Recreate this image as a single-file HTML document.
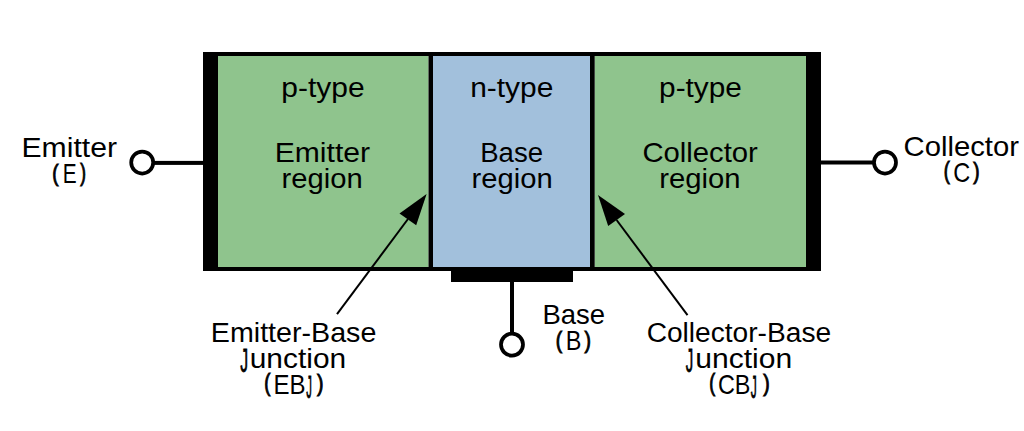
<!DOCTYPE html>
<html><head><meta charset="utf-8"><title>BJT structure</title><style>
html,body{margin:0;padding:0;background:#fff;width:1024px;height:431px;overflow:hidden}
svg{display:block}
text{font-family:"Liberation Sans",sans-serif;font-size:27.0px;fill:#000}
</style></head><body>
<svg width="1024" height="431" viewBox="0 0 1024 431">
<rect width="1024" height="431" fill="#fff"/>
<rect x="218" y="56" width="210.5" height="211" fill="#8fc48d"/>
<rect x="433" y="56" width="157" height="211" fill="#a2c0dc"/>
<rect x="594.7" y="56" width="211.3" height="211" fill="#8fc48d"/>
<rect x="203" y="52" width="618" height="4" fill="#000"/>
<rect x="203" y="267" width="618" height="4" fill="#000"/>
<rect x="203" y="52" width="15" height="219" fill="#000"/>
<rect x="806" y="52" width="15" height="219" fill="#000"/>
<rect x="428.5" y="52" width="4.5" height="219" fill="#000"/>
<rect x="590" y="52" width="4.7" height="219" fill="#000"/>
<rect x="451" y="267" width="122" height="15" fill="#000"/>
<rect x="510" y="282" width="4" height="51" fill="#000"/>
<circle cx="512" cy="344.6" r="11" fill="#fff" stroke="#000" stroke-width="3.75"/>
<rect x="154" y="160.9" width="49" height="4" fill="#000"/>
<circle cx="142.2" cy="162.5" r="11" fill="#fff" stroke="#000" stroke-width="3.75"/>
<rect x="821" y="160.5" width="52" height="4" fill="#000"/>
<circle cx="885" cy="162.5" r="11" fill="#fff" stroke="#000" stroke-width="3.75"/>
<line x1="337" y1="314.2" x2="408" y2="219" stroke="#000" stroke-width="2"/>
<polygon points="426.6,194.0 399.5,213.4 416.2,225.2" fill="#000"/>
<line x1="687.5" y1="315.2" x2="616.6" y2="220" stroke="#000" stroke-width="2"/>
<polygon points="598,195.0 625.0,214.1 608.2,225.9" fill="#000"/>
<text transform="translate(283.30 97.00) scale(1.1111 1.0000)" x="-1.75">p-type</text>
<text transform="translate(472.10 97.00) scale(1.1097 1.0000)" x="-1.75">n-type</text>
<text transform="translate(661.00 97.00) scale(1.1028 1.0000)" x="-1.75">p-type</text>
<text transform="translate(277.20 161.50) scale(1.1154 1.0000)" x="-2.25">Emitter</text>
<text transform="translate(283.50 188.00) scale(1.0811 1.0000)" x="-1.75">region</text>
<text transform="translate(482.50 161.50) scale(1.0224 1.0000)" x="-2.25">Base</text>
<text transform="translate(473.50 188.00) scale(1.0811 1.0000)" x="-1.75">region</text>
<text transform="translate(644.00 161.50) scale(1.0842 1.0000)" x="-1.50">Collector</text>
<text transform="translate(661.10 188.00) scale(1.0825 1.0000)" x="-1.75">region</text>
<text transform="translate(24.00 157.10) scale(1.1178 1.0000)" x="-2.25">Emitter</text>
<text transform="translate(53.50 181.08) scale(0.7000 0.8760)" x="-1.75" stroke="#000" stroke-width="0.9" vector-effect="non-scaling-stroke">(</text>
<text transform="translate(64.60 183.30) scale(0.7724 1.0000)" x="-2.25">E</text>
<text transform="translate(80.40 181.08) scale(0.6286 0.8760)" x="-0.25" stroke="#000" stroke-width="0.9" vector-effect="non-scaling-stroke">)</text>
<text transform="translate(905.20 155.60) scale(1.0842 1.0000)" x="-1.50">Collector</text>
<text transform="translate(945.00 179.08) scale(0.6714 0.8760)" x="-1.75" stroke="#000" stroke-width="0.9" vector-effect="non-scaling-stroke">(</text>
<text transform="translate(954.60 181.90) scale(0.8706 1.0000)" x="-1.50">C</text>
<text transform="translate(973.50 179.08) scale(0.7000 0.8760)" x="-0.25" stroke="#000" stroke-width="0.9" vector-effect="non-scaling-stroke">)</text>
<text transform="translate(544.70 323.90) scale(1.0172 1.0000)" x="-2.25">Base</text>
<text transform="translate(557.10 348.28) scale(0.7143 0.8760)" x="-1.75" stroke="#000" stroke-width="0.9" vector-effect="non-scaling-stroke">(</text>
<text transform="translate(567.80 350.00) scale(0.8702 1.0000)" x="-2.25">B</text>
<text transform="translate(584.70 348.28) scale(0.7143 0.8760)" x="-0.25" stroke="#000" stroke-width="0.9" vector-effect="non-scaling-stroke">)</text>
<text transform="translate(213.20 342.00) scale(1.0610 1.0000)" x="-2.25">Emitter-Base</text>
<text transform="translate(240.50 371.90) scale(0.5818 1.2107)" x="-0.50" stroke="#000" stroke-width="0.6" vector-effect="non-scaling-stroke">J</text>
<text transform="translate(251.60 368.00) scale(1.1090 1.0000)" x="-1.75">unction</text>
<text transform="translate(265.40 391.45) scale(0.6857 0.8640)" x="-1.75" stroke="#000" stroke-width="0.9" vector-effect="non-scaling-stroke">(</text>
<text transform="translate(275.60 393.80) scale(0.8899 1.0000)" x="-2.25">EB</text>
<text transform="translate(306.40 397.81) scale(0.4182 1.1733)" x="-0.50" stroke="#000" stroke-width="0.6" vector-effect="non-scaling-stroke">J</text>
<text transform="translate(317.20 391.45) scale(0.7143 0.8640)" x="-0.25" stroke="#000" stroke-width="0.9" vector-effect="non-scaling-stroke">)</text>
<text transform="translate(648.20 342.00) scale(1.0422 1.0000)" x="-1.50">Collector-Base</text>
<text transform="translate(686.10 371.70) scale(0.5545 1.2000)" x="-0.50" stroke="#000" stroke-width="0.6" vector-effect="non-scaling-stroke">J</text>
<text transform="translate(697.20 368.00) scale(1.1138 1.0000)" x="-1.75">unction</text>
<text transform="translate(710.30 391.45) scale(0.6571 0.8640)" x="-1.75" stroke="#000" stroke-width="0.9" vector-effect="non-scaling-stroke">(</text>
<text transform="translate(719.20 393.60) scale(0.8667 1.0000)" x="-1.50">CB</text>
<text transform="translate(750.90 397.80) scale(0.4455 1.1840)" x="-0.50" stroke="#000" stroke-width="0.6" vector-effect="non-scaling-stroke">J</text>
<text transform="translate(763.40 391.45) scale(0.7143 0.8640)" x="-0.25" stroke="#000" stroke-width="0.9" vector-effect="non-scaling-stroke">)</text>
</svg>
</body></html>
